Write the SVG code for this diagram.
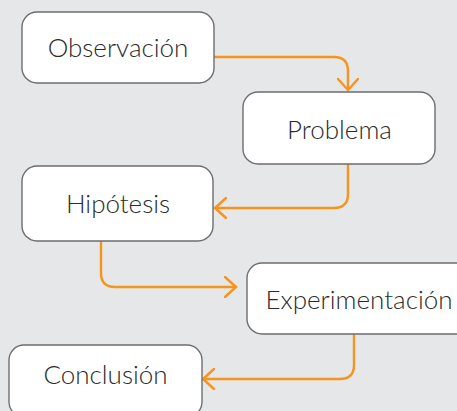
<svg xmlns="http://www.w3.org/2000/svg" width="457" height="411" viewBox="0 0 457 411">
<defs>
<style>
.box{fill:#ffffff;stroke:#6d6e70;stroke-width:1.4}
.lbl{font-family:Lato,"Noto Sans","Liberation Sans",sans-serif;font-weight:300;font-size:26px;fill:#2b2b2b;text-anchor:middle}
.con{fill:none;stroke:#f7941d;stroke-width:2.4;stroke-linecap:round;stroke-linejoin:round}
</style>
<marker id="arr" markerUnits="userSpaceOnUse" viewBox="-12 -11 14 22" markerWidth="14" markerHeight="22" refX="0" refY="0" orient="auto">
<path d="M-11,-10 L0,0 L-11,10" fill="none" stroke="#f7941d" stroke-width="2.4" stroke-linecap="round" stroke-linejoin="miter"/>
</marker>
</defs>
<rect width="457" height="411" fill="#e6e7e9"/>
<g id="connectors">
<path class="con" marker-end="url(#arr)" d="M214,57 H334 Q348,57 348,71 V90"/>
<path class="con" marker-end="url(#arr)" d="M348,164 V194 Q348,208 334,208 H215"/>
<path class="con" marker-end="url(#arr)" d="M101,241 V273 Q101,287 115,287 H236"/>
<path class="con" marker-end="url(#arr)" d="M354,334 V365 Q354,379 340,379 H203"/>
</g>
<g id="observacion">
<rect class="box" x="22" y="12" width="192" height="71" rx="15"/>
<text class="lbl" x="118" y="57">Observación</text>
</g>
<g id="problema">
<rect class="box" x="243" y="92" width="192" height="72" rx="15"/>
<text class="lbl" x="339.5" y="139">Problema</text>
</g>
<g id="hipotesis">
<rect class="box" x="22" y="166" width="191" height="75" rx="15"/>
<text class="lbl" x="118" y="213">Hipótesis</text>
</g>
<g id="experimentacion">
<rect class="box" x="247" y="263" width="224" height="71" rx="15"/>
<text class="lbl" x="359" y="309">Experimentación</text>
</g>
<g id="conclusion">
<rect class="box" x="9" y="345" width="193" height="72" rx="15"/>
<text class="lbl" x="105.5" y="384">Conclusión</text>
</g>
</svg>
